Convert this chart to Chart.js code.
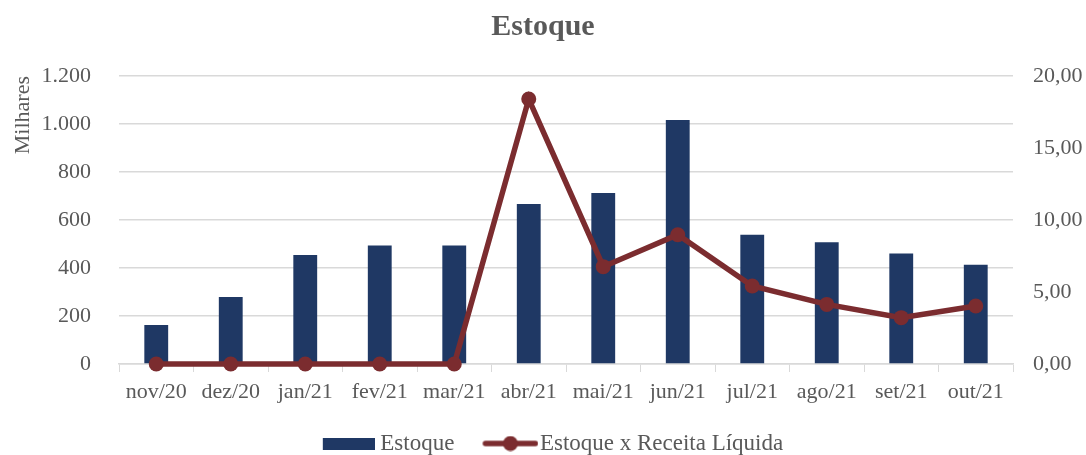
<!DOCTYPE html>
<html>
<head>
<meta charset="utf-8">
<script src="https://cdn.jsdelivr.net/npm/chart.js@4"></script>
<style>
  html, body { margin: 0; padding: 0; background: #fff; }
  #box { width: 1086px; height: 455px; }
</style>
</head>
<body>
<div id="box"><canvas id="estoqueChart"></canvas></div>
<script>
// dados
const meses = ['nov/20', 'dez/20', 'jan/21', 'fev/21', 'mar/21', 'abr/21', 'mai/21', 'jun/21', 'jul/21', 'ago/21', 'set/21', 'out/21'];
const estoque = [162, 279, 454, 494, 494, 667, 712, 1017, 539, 507, 460, 414];
const estoqueReceita = [0, 0, 0, 0, 0, 18.4, 6.76, 8.98, 5.42, 4.14, 3.22, 4.03];
const ticksEsq = [0, 200, 400, 600, 800, 1000, 1200];
const ticksDir = [0, 5, 10, 15, 20];

const corBarra = '#1f3864';
const corLinha = '#7b2c2f';
const corTexto = '#595959';
const fonte = "'Liberation Serif', 'Times New Roman', serif";

// icones da legenda (margem transparente a esquerda p/ acertar o espacamento)
function iconeBarra() {
    const c = document.createElement('canvas');
    c.width = 78; c.height = 12;
    const ctx = c.getContext('2d');
    ctx.fillStyle = corBarra;
    ctx.fillRect(26, 0, 52, 12);
    return c;
}

function iconeLinha() {
    const c = document.createElement('canvas');
    c.width = 86; c.height = 16;
    const ctx = c.getContext('2d');
    ctx.strokeStyle = corLinha;
    ctx.lineWidth = 5.5;
    ctx.lineCap = 'round';
    ctx.beginPath();
    ctx.moveTo(33, 8); ctx.lineTo(83, 8);
    ctx.stroke();
    ctx.fillStyle = corLinha;
    ctx.beginPath();
    ctx.arc(58, 8, 7.5, 0, Math.PI * 2);
    ctx.fill();
    return c;
}

const fmtBR = (v, dec) => v.toLocaleString('pt-BR', { minimumFractionDigits: dec, maximumFractionDigits: dec });

const dados = {
    labels: meses,
    datasets: [{
        type: 'line',
        label: 'Estoque x Receita Líquida',
        data: estoqueReceita,
        yAxisID: 'yDir',
        borderColor: corLinha,
        backgroundColor: corLinha,
        borderWidth: 5.5,
        pointRadius: 7.5,
        pointHoverRadius: 7.5,
        pointBackgroundColor: corLinha,
        pointBorderWidth: 0,
        tension: 0,
        clip: false,
        order: 0
    }, {
        type: 'bar',
        label: 'Estoque',
        data: estoque,
        yAxisID: 'yEsq',
        backgroundColor: corBarra,
        barPercentage: 0.32,
        categoryPercentage: 1,
        order: 1
    }]
};

const config = {
    data: dados,
    options: {
        responsive: true,
        maintainAspectRatio: false,
        animation: { duration: 0 },
        layout: { padding: { left: 0, right: 0, top: 0, bottom: -10 } },
        plugins: {
            title: {
                display: true,
                text: 'Estoque',
                color: corTexto,
                font: { family: fonte, size: 30, weight: 'bold' },
                padding: { top: 9, bottom: 31 }
            },
            legend: {
                position: 'bottom',
                reverse: true,
                labels: {
                    color: corTexto,
                    font: { family: fonte, size: 23 },
                    usePointStyle: true,
                    pointStyleWidth: 66,
                    boxHeight: 14,
                    padding: 8,
                    generateLabels: function (chart) {
                        return chart.data.datasets.map(function (ds, i) {
                            return {
                                text: ds.label,
                                fontColor: corTexto,
                                pointStyle: ds.type === 'bar' ? iconeBarra() : iconeLinha(),
                                hidden: false,
                                datasetIndex: i,
                                lineWidth: 0,
                                strokeStyle: 'transparent',
                                fillStyle: 'transparent'
                            };
                        });
                    }
                }
            },
            tooltip: { enabled: false }
        },
        scales: {
            x: {
                offset: true,
                afterFit: function (axis) { axis.height = 60; },
                grid: {
                    offset: true,
                    drawOnChartArea: false,
                    drawTicks: true,
                    tickLength: 8,
                    color: '#d9d9d9'
                },
                border: { color: '#d9d9d9', width: 1.5 },
                ticks: {
                    color: corTexto,
                    font: { family: fonte, size: 22 },
                    maxRotation: 0,
                    autoSkip: false,
                    padding: 7
                }
            },
            yEsq: {
                position: 'left',
                min: 0,
                max: 1200,
                afterBuildTicks: function (axis) { axis.ticks = ticksEsq.map(v => ({ value: v })); },
                afterFit: function (axis) { axis.width = 119; },
                grid: { color: '#d9d9d9', lineWidth: 1.5, drawTicks: false },
                border: { display: false },
                ticks: {
                    color: corTexto,
                    font: { family: fonte, size: 22 },
                    padding: 28,
                    callback: v => fmtBR(v, 0)
                },
                title: {
                    display: true,
                    text: 'Milhares',
                    align: 'end',
                    color: corTexto,
                    font: { family: fonte, size: 22 },
                    padding: { top: 10, bottom: 0 }
                }
            },
            yDir: {
                position: 'right',
                min: 0,
                max: 20,
                afterBuildTicks: function (axis) { axis.ticks = ticksDir.map(v => ({ value: v })); },
                afterFit: function (axis) { axis.width = 73; },
                grid: { drawOnChartArea: false, drawTicks: false },
                border: { display: false },
                ticks: {
                    color: corTexto,
                    font: { family: fonte, size: 22 },
                    padding: 20,
                    callback: v => fmtBR(v, 2)
                }
            }
        }
    }
};

new Chart(document.getElementById('estoqueChart'), config);
</script>
</body>
</html>
